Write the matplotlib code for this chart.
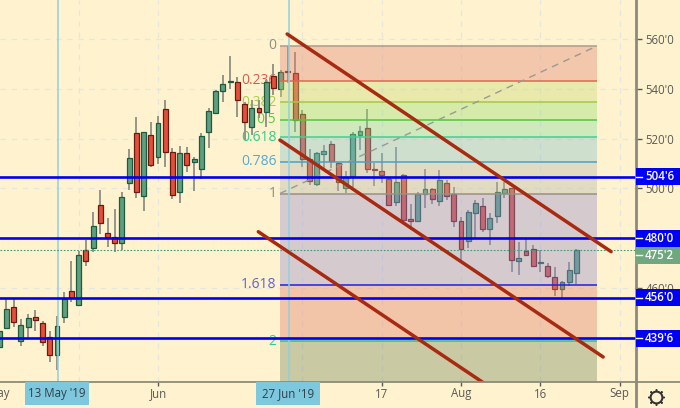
import matplotlib
matplotlib.use('Agg')

import matplotlib.pyplot as plt
import numpy as np
from matplotlib.lines import Line2D
from matplotlib.patches import Rectangle

# daily candles, first one is cut by the left edge
first_bar = -8
opens = [436.2, 443.9, 452.4, 438.7, 444.5, 448.5, 445.9, 440.3, 433.2, 448.4, 458.9, 453.2, 475.4, 475.9, 493.3,
         482.1, 480.4, 478.0, 502.2, 522.2, 497.1, 521.6, 512.5, 531.9, 514.5, 498.7, 514.1, 510.7, 507.8, 522.8,
         530.2, 539.0, 542.7, 542.8, 533.8, 524.8, 532.4, 530.6, 545.3, 539.8, 547.3, 546.2, 529.9, 511.7, 501.8,
         513.8, 517.8, 510.0, 500.0, 505.0, 521.4, 524.1, 507.9, 507.1, 503.8, 494.7, 505.5, 487.6, 487.0, 497.6,
         499.6, 495.1, 502.2, 497.7, 486.9, 479.0, 490.0, 492.9, 483.7, 489.0, 498.2, 500.0, 470.8, 474.7, 475.5,
         470.0, 469.0, 464.4, 459.7, 462.4, 466.1]
highs = [444.0, 455.6, 455.6, 447.5, 449.6, 451.2, 446.9, 442.9, 448.8, 458.4, 471.0, 475.0, 479.4, 490.5, 499.4,
         488.1, 491.7, 498.7, 515.8, 528.8, 522.8, 526.7, 529.2, 535.5, 516.2, 517.2, 516.7, 512.7, 522.1, 532.2,
         539.5, 545.6, 553.2, 544.9, 534.8, 535.5, 535.5, 543.5, 549.9, 547.5, 557.2, 554.9, 531.5, 515.8, 514.7,
         517.4, 519.2, 510.7, 507.0, 522.8, 525.0, 531.8, 510.0, 514.1, 504.6, 516.7, 505.8, 493.6, 498.7, 507.7,
         500.3, 507.4, 503.4, 500.7, 488.6, 491.3, 495.3, 496.0, 490.0, 502.7, 502.7, 500.3, 478.6, 480.1, 477.3,
         475.3, 470.2, 468.6, 462.8, 470.3, 475.5]
lows = [435.0, 443.5, 444.3, 436.8, 439.5, 442.7, 436.8, 430.3, 427.2, 445.9, 454.4, 452.9, 469.0, 474.5, 481.7,
        476.5, 474.5, 475.3, 499.4, 496.1, 490.9, 508.7, 509.8, 508.7, 495.7, 494.1, 506.6, 499.1, 503.8, 516.3,
        529.8, 534.8, 539.8, 528.6, 519.4, 521.4, 528.3, 524.8, 537.5, 536.8, 542.2, 522.8, 508.7, 501.4, 501.0,
        507.4, 508.2, 499.1, 498.3, 500.7, 515.4, 506.3, 500.9, 502.3, 492.9, 492.9, 486.5, 483.3, 486.9, 492.3,
        493.6, 493.1, 495.3, 484.5, 471.3, 476.2, 479.6, 482.6, 477.3, 486.2, 496.0, 466.5, 465.2, 472.9, 468.5,
        466.5, 464.1, 456.8, 456.1, 460.9, 461.5]
closes = [442.9, 451.6, 446.5, 445.3, 447.9, 447.3, 438.3, 433.2, 444.9, 455.6, 456.0, 473.4, 471.0, 485.0, 486.1,
          480.4, 478.0, 496.7, 512.2, 498.7, 522.5, 509.5, 526.1, 514.7, 497.5, 514.1, 509.5, 511.7, 521.2, 531.1,
          539.1, 541.9, 543.3, 535.5, 526.8, 532.2, 530.6, 542.8, 540.2, 546.6, 546.9, 527.5, 511.7, 503.1, 514.1,
          515.0, 511.0, 502.5, 504.7, 521.7, 522.9, 507.8, 507.4, 505.4, 493.3, 502.4, 487.3, 487.0, 497.7, 499.8,
          495.7, 503.4, 497.1, 487.0, 475.5, 490.5, 494.3, 483.6, 488.0, 498.4, 499.6, 471.3, 471.9, 473.2, 468.8,
          470.6, 464.9, 459.7, 462.3, 467.2, 475.2]

# fibonacci retracement
fib_start, fib_end = 30.9, 74.85
fib_top, fib_bottom = 557.2, 497.95
fib_levels = [0, 0.236, 0.382, 0.5, 0.618, 0.786, 1, 1.618, 2]
fib_labels = ['0', '0.236', '0.382', '0.5', '0.618', '0.786', '1', '1.618', '2']
fib_text_colors = ['#8f8d80', '#e0584f', '#a8cc50', '#55cc44', '#33cc88', '#55a8d8', '#8f8d80', '#6060d8', '#33cc99']
fib_line_colors = ['#a89c90', '#dc6a50', '#a8c840', '#58c440', '#40d090', '#4aa0c8', '#98908c', '#2020e0', '#30c090']
fib_fill_colors = ['#e18775', '#c8da78', '#94df70', '#87daa0', '#87c1ca', '#b9b9a7', '#9691cf', '#e1826e', '#788a64']

# drawn lines
channel_x = [(31.9, 76.8), (30.9, 75.7), (27.9, 60.0)]
channel_y = [(562.0, 474.6), (519.4, 432.3), (482.6, 420.2)]

levels = [504.75, 480.0, 456.0, 439.75]
level_labels = ["504'6", "480'0", "456'0", "439'6"]
last_price = 475.25
last_label = "475'2"
last_tag_price = 473.2  # tag gets pushed down by the 480 one

price_ticks = [500, 520, 540, 560, 460]
price_tick_labels = ["500'0", "520'0", "540'0", "560'0", "460'0"]
grid_x = [3, 14, 34, 45, 56, 67, 78]
date_ticks = [-8, 14, 45, 56, 67, 78]
date_labels = ['May', 'Jun', '17', 'Aug', '16', 'Sep']
marked_dates = [(0, "13 May '19"), (32, "27 Jun '19")]

BG = '#fff3cf'
AXIS = '#8c8a78'
TEXT = '#5a5a55'
FONT = 'Open Sans'

fig = plt.figure(figsize=(6.8, 4.08), dpi=100, facecolor=BG)
ax = fig.add_axes([0, 26 / 408, 636 / 680, 382 / 408], facecolor=BG)
ax.set_xlim(-7.9, 80.25)
ax.set_ylim(422.25, 575.66)

for g in grid_x:
    ax.axvline(g, color='#e6e6e0', lw=1, dashes=(4, 4), zorder=1)
for p in price_ticks:
    ax.axhline(p, color='#e6e6e0', lw=1, dashes=(4, 4), zorder=1)

top_fib = np.array(fib_levels)
fib_prices = fib_top - top_fib * (fib_top - fib_bottom)

for price, label, color in zip(fib_prices, fib_labels, fib_text_colors):
    ax.text(fib_start - 0.5, price, label, color=color, fontsize=10, family=FONT,
            ha='right', va='center', zorder=2)

# candles
opens = np.array(opens)
closes = np.array(closes)
bars = np.arange(first_bar, first_bar + len(opens))
up = closes >= opens
ax.vlines(bars, lows, highs, color='#8e8e84', lw=1.3, zorder=3)
ax.bar(bars[up], (closes - opens)[up], bottom=opens[up], width=0.68, color='#5f9f7f', edgecolor='#1d5a3e',
       lw=0.9, zorder=4)
ax.bar(bars[~up], (closes - opens)[~up], bottom=opens[~up], width=0.68, color='#e2503c', edgecolor='#6b1a10',
       lw=0.9, zorder=4)

# fib bands sit over the candles
band_edges = list(fib_prices) + [ax.get_ylim()[0]]
for i, color in enumerate(fib_fill_colors):
    ax.fill_between([fib_start, fib_end], band_edges[i], band_edges[i + 1], color=color, alpha=0.4, lw=0, zorder=5)
for price, color in zip(fib_prices, fib_line_colors):
    ax.hlines(price, fib_start, fib_end, color=color, lw=1.1, zorder=6)
ax.plot([fib_start, fib_end], [fib_bottom, fib_top], color='#9a9a90', lw=1, dashes=(5, 4), zorder=6)

for date, label in marked_dates:
    ax.axvline(date + 0.1, color='#8fcfe0', lw=1.1, zorder=6)

ax.axhline(last_price, color='#3f9a78', lw=0.8, dashes=(1.5, 1.5), zorder=6)
for price in levels:
    ax.axhline(price, color='#0000f0', lw=1.9, zorder=7)
for xs, ys in zip(channel_x, channel_y):
    ax.plot(xs, ys, color='#a82a10', lw=2.5, solid_capstyle='round', zorder=8)

# axes
for side in ['top', 'left', 'right', 'bottom']:
    ax.spines[side].set_visible(False)
ax.plot([0, 680 / 636], [0, 0], color=AXIS, lw=1.3, transform=ax.transAxes, clip_on=False, zorder=9)
ax.plot([1, 1], [-26 / 382, 1], color=AXIS, lw=2, transform=ax.transAxes, clip_on=False, zorder=9)

ax.yaxis.tick_right()
ax.set_yticks(price_ticks)
ax.set_yticklabels(price_tick_labels, fontsize=8.3, color=TEXT, family=FONT)
ax.tick_params(axis='y', length=4, width=1, color=TEXT, pad=3)
ax.set_xticks([t for t in date_ticks if t > -7.9] + [d for d, _ in marked_dates])
ax.set_xticklabels([])
ax.tick_params(axis='x', length=3, width=1, color=TEXT)

xform = ax.get_xaxis_transform()
for date, label in zip(date_ticks, date_labels):
    ax.text(date, -12 / 382, label, transform=xform, fontsize=8.3, color=TEXT, family=FONT,
            ha='center', va='center', clip_on=False)

for date, label in marked_dates:
    ax.add_patch(Rectangle((date - 4.4, -23 / 382), 8.9, 23 / 382, transform=xform, facecolor='#7ec8de',
                           edgecolor='none', clip_on=False, zorder=10))
    ax.text(date, -12 / 382, label, transform=xform, fontsize=8.3, color='#2f3f48', family=FONT,
            ha='center', va='center', zorder=11)

# price tags on the right
yform = ax.get_yaxis_transform()
tag_width = 44 / 636
for price, label in zip(levels + [last_tag_price], level_labels + [last_label]):
    color = '#6fa880' if price == last_tag_price else '#0000f5'
    ax.add_patch(Rectangle((1, price - 3.4), tag_width, 6.8, transform=yform, facecolor=color,
                           edgecolor='none', clip_on=False, zorder=10))
    ax.plot([1, 1 + 6 / 636], [price, price], color='white', lw=1, transform=yform, clip_on=False, zorder=11)
    ax.text(1 + 9 / 636, price, label, transform=yform, fontsize=8.3, color='white', family=FONT,
            fontweight='semibold', ha='left', va='center', zorder=11)

# settings gear
gear_x, gear_y = 656 / 680, (408 - 396.5) / 408
for marker, size, face in [((8, 2, 0), 12, 'none'), ('o', 9, BG), ('o', 8, BG)]:
    fig.add_artist(Line2D([gear_x], [gear_y], marker=marker, ms=size, mfc=face, mec='#333333', mew=1,
                          ls='none', transform=fig.transFigure, zorder=20))

fig.savefig('out.png', dpi=100, facecolor=BG)
